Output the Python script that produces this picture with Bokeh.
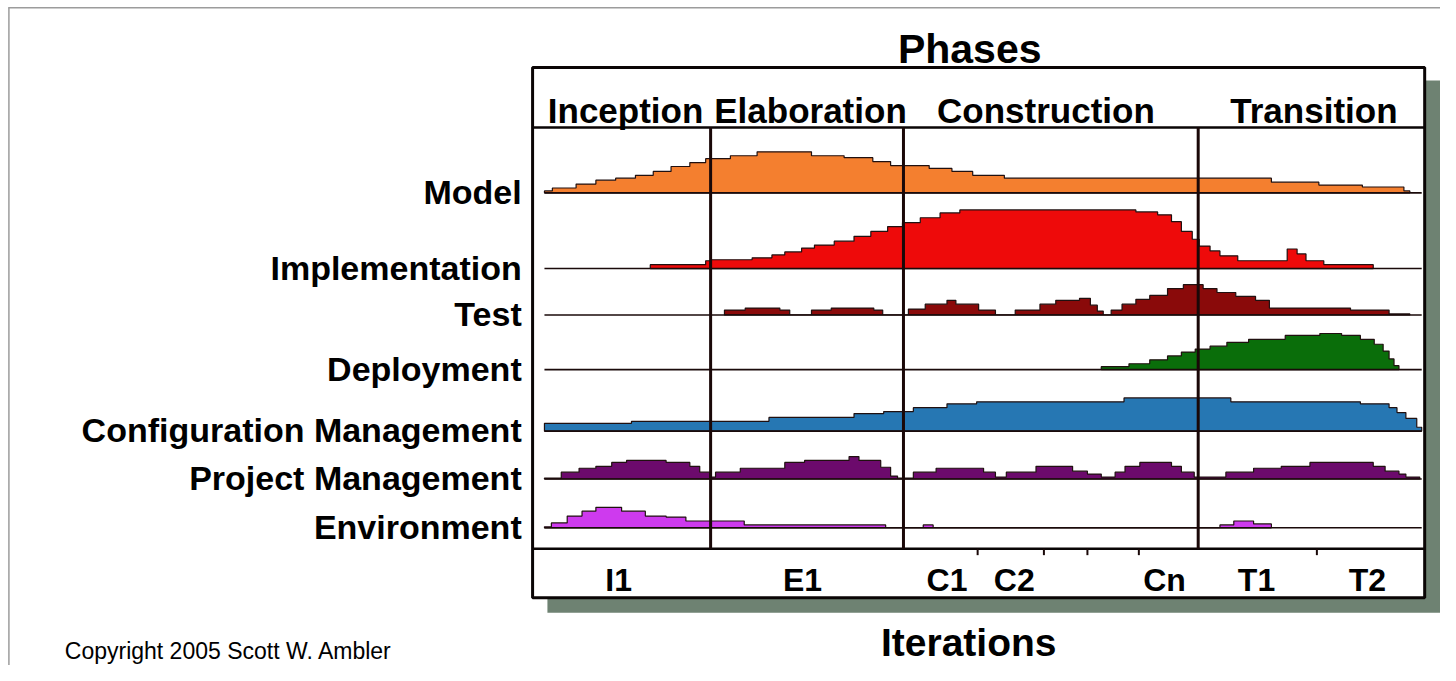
from bokeh.plotting import figure
from bokeh.models import Range1d
from bokeh.core.properties import value
from bokeh.embed import file_html
from bokeh.resources import INLINE

# ---------------- data (time in project units, effort in arbitrary units) -------------
phases = ["Inception", "Elaboration", "Construction", "Transition"]
phase_label_t = [82, 269, 507, 778]
phase_bounds_t = [168, 363, 661]

iterations = ["I1", "E1", "C1", "C2", "Cn", "T1", "T2"]
iteration_label_t = [75, 261, 407, 475, 627, 720, 832]
iteration_ticks_t = [438, 505, 549, 601, 781]

disciplines = ["Model", "Implementation", "Test", "Deployment",
               "Configuration Management", "Project Management", "Environment"]

model_t = [0, 8, 32, 52, 72, 92, 110, 128, 147, 163, 188, 215, 270, 303, 332, 350,
           389, 412, 433, 465, 735, 783, 827, 869, 875]
model_h = [2, 5, 9, 13, 15, 18, 22, 27, 31, 35, 38, 42, 38, 36, 32, 28, 25, 22, 18,
           15, 11, 8, 6, 2]

impl_t = [107, 163, 168, 210, 230, 243, 260, 273, 293, 313, 330, 347, 362, 380, 400,
          420, 598, 620, 634, 644, 655, 662, 673, 683, 701, 751, 761, 770, 788, 838]
impl_h = [4, 8, 9, 11, 14, 17, 21, 24, 28, 33, 38, 43, 47, 52, 57, 60, 58, 55, 48, 38,
          30, 23, 18, 13, 8, 20, 15, 8, 4]

test_t = [182, 203, 238, 248, 270, 290, 333, 342, 368, 385, 407, 416, 439, 456, 476,
          501, 517, 541, 552, 559, 565, 573, 584, 598, 612, 630, 646, 666, 680, 699,
          719, 733, 815, 854, 875]
test_h = [5, 7, 5, 0, 5, 7, 5, 0, 6, 11, 15, 11, 5, 0, 5, 11, 15, 17, 10, 4, 0, 5, 11,
          16, 20, 27, 31, 27, 23, 19, 15, 7, 5, 1]

deploy_t = [563, 591, 612, 630, 644, 658, 673, 690, 712, 749, 784, 806, 825, 839, 848,
            854, 859, 864]
deploy_h = [3, 6, 10, 14, 18, 21, 24, 28, 31, 35, 37, 35, 31, 26, 19, 11, 4]

config_t = [0, 88, 227, 313, 343, 373, 407, 437, 586, 694, 825, 854, 862, 871, 882, 887]
config_h = [8, 10, 14, 18, 20, 24, 28, 30, 34, 30, 28, 24, 19, 13, 4]

pm_t = [0, 17, 35, 52, 68, 83, 123, 147, 157, 167, 173, 198, 243, 263, 308, 318, 340,
        350, 357, 373, 396, 444, 456, 467, 497, 534, 549, 563, 577, 587, 602, 634, 644,
        657, 689, 717, 745, 774, 838, 850, 864, 871, 885]
pm_h = [1, 7, 11, 13, 17, 19, 17, 13, 7, 2, 7, 11, 17, 19, 23, 19, 12, 3, 1, 7, 11, 7,
        2, 7, 13, 8, 5, 2, 7, 13, 17, 13, 7, 2, 7, 11, 13, 17, 13, 8, 5, 2]

env_t = [0, 7, 23, 38, 52, 78, 102, 123, 143, 202, 345, 383, 393, 683, 697, 717, 735]
env_h = [1, 5, 12, 17, 21, 17, 12, 11, 7, 3, 0, 3, 0, 3, 7, 4]

series_t = [model_t, impl_t, test_t, deploy_t, config_t, pm_t, env_t]
series_h = [model_h, impl_h, test_h, deploy_h, config_h, pm_h, env_h]

# ---------------- layout / style ----------------
W, H = 1440, 665          # canvas; layout below is expressed on a 1456 x 681 design grid
GW, GH = 1456, 681
X0 = 550                  # design-grid x of time 0
def X(gx):
    return gx - X0
def Y(gy):
    return GH - gy

row_base = [197, 274.5, 322, 378, 441, 490, 540]
colors = ["#F47F2F", "#EE0A0A", "#8A0A0A", "#0A6E0A", "#2677B3", "#6C0A6C", "#CE3AEE"]
outline = "#201010"
FONT = value("Liberation Sans")

p = figure(width=W, height=H, x_range=Range1d(X(0), X(GW)), y_range=Range1d(0, GH),
           output_backend="svg", toolbar_location=None,
           x_axis_location=None, y_axis_location=None, min_border=0)
p.min_border_left = p.min_border_right = p.min_border_top = p.min_border_bottom = 0
p.xgrid.visible = False
p.ygrid.visible = False
p.outline_line_color = None
p.background_fill_color = "white"
p.border_fill_color = "white"

# page border (left & top)
p.segment(x0=[X(8.5), X(8)], y0=[Y(7), Y(7.5)], x1=[X(8.5), X(GW)], y1=[Y(GH), Y(7.5)],
          line_color="#9c9c9c", line_width=1.5)

# shadow
p.quad(left=[X(553)], right=[X(1470)], top=[Y(82)], bottom=[Y(627)],
       fill_color="#6E8272", line_color=None)
# main box
p.quad(left=[X(538)], right=[X(1440)], top=[Y(68.5)], bottom=[Y(611.5)],
       fill_color="white", line_color="#0a0505", line_width=3)

# humps
def stair(t, h, base):
    xs = [t[0]]
    ys = [base]
    for i in range(len(h)):
        xs += [t[i], t[i + 1]]
        ys += [base + h[i], base + h[i]]
    xs.append(t[-1])
    ys.append(base)
    return xs, ys

for t, h, bs, c in zip(series_t, series_h, row_base, colors):
    xs, ys = stair(t, h, Y(bs))
    p.patch(xs, ys, fill_color=c, line_color=outline, line_width=1.2)

# baselines
p.segment(x0=[X(550)] * 7, x1=[X(1437)] * 7,
          y0=[Y(b) for b in row_base], y1=[Y(b) for b in row_base],
          line_color="#1a0a0a", line_width=1.6)

# header / iteration separators
p.segment(x0=[X(538), X(538)], x1=[X(1440), X(1440)], y0=[Y(130), Y(561.5)],
          y1=[Y(130), Y(561.5)], line_color="#0a0505", line_width=2.5)

# phase dividers
p.segment(x0=phase_bounds_t, x1=phase_bounds_t, y0=[Y(130)] * 3, y1=[Y(561.5)] * 3,
          line_color="#1a0808", line_width=3)

# iteration ticks
p.segment(x0=iteration_ticks_t, x1=iteration_ticks_t, y0=[Y(561.5)] * 5,
          y1=[Y(568)] * 5, line_color="#1a0808", line_width=2)

# texts
p.text(x=[X(980)], y=[Y(50)], text=["Phases"], text_font=FONT, text_font_style="bold",
       text_font_size="41px", text_align="center", text_baseline="alphabetic",
       text_color="black")
p.text(x=[X(979)], y=[Y(657)], text=["Iterations"], text_font=FONT,
       text_font_style="bold", text_font_size="39px", text_align="center",
       text_baseline="alphabetic", text_color="black")
p.text(x=phase_label_t, y=[Y(113)] * 4, text=phases, text_font=FONT,
       text_font_style="bold", text_font_size="35px", text_align="center",
       text_baseline="alphabetic", text_color="black")
p.text(x=iteration_label_t, y=[Y(593)] * 7, text=iterations, text_font=FONT,
       text_font_style="bold", text_font_size="32px", text_align="center",
       text_baseline="alphabetic", text_color="black")
p.text(x=[X(527)] * 7, y=[Y(b - 1) for b in row_base], text=disciplines,
       text_font=FONT, text_font_style="bold", text_font_size="34px",
       text_align="right", text_baseline="alphabetic", text_color="black")
p.text(x=[X(65)], y=[Y(666)], text=["Copyright 2005 Scott W. Ambler"], text_font=FONT,
       text_font_size="23px", text_align="left", text_baseline="alphabetic",
       text_color="black")

open("out.html", "w").write(file_html(p, INLINE))
